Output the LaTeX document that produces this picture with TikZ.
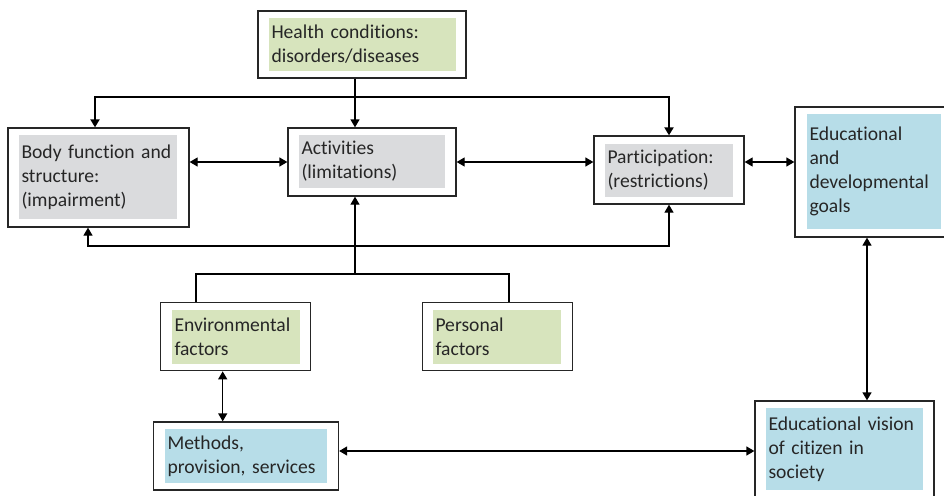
\documentclass[tikz,border=0pt]{standalone}
\usepackage{fontspec}
\setmainfont{Carlito}[Ligatures=NoCommon]
\usetikzlibrary{arrows.meta}
\definecolor{boxgrey}{HTML}{DADBDD}
\definecolor{boxgreen}{HTML}{D7E4BD}
\definecolor{boxblue}{HTML}{B7DDE8}
\definecolor{textdark}{HTML}{262626}

\begin{document}
\begin{tikzpicture}[x=1pt,y=-1pt,>={Triangle[length=8pt,width=9pt]}]
                        \tikzstyle{frame}=[draw=black!85, line width=1.3pt, fill=white, inner sep=0pt]
                        \tikzstyle{txtbox}=[inner xsep=2.5pt, inner ysep=0pt, align=left, text=textdark, font=\fontsize{19.6}{24}\selectfont]
                        \tikzstyle{conn}=[line width=1.3pt]
                        \tikzstyle{bigconn}=[line width=2.2pt]
                        \clip (0,0) rectangle (944,495);
                        % outer frames
                        \node[frame, minimum width=208pt, minimum height=67pt] (health) at (362,44.5) {};
                        \node[frame, minimum width=181pt, minimum height=99pt] (body) at (98.5,177.5) {};
                        \node[frame, minimum width=168pt, minimum height=68pt] (acts) at (372,162) {};
                        \node[frame, minimum width=150pt, minimum height=68pt] (part) at (669,170) {};
                        \node[frame, minimum width=157pt, minimum height=130pt] (goals) at (873.5,172) {};
                        \node[frame, minimum width=150pt, minimum height=68pt] (env) at (235.7,336.7) {};
                        \node[frame, minimum width=150pt, minimum height=68pt] (pers) at (497.7,336.7) {};
                        \node[frame, minimum width=185pt, minimum height=68pt] (meth) at (246,456) {};
                        \node[frame, minimum width=179pt, minimum height=100pt] (vis) at (844.5,451) {};
                        % coloured text fields
                        \node[txtbox, fill=boxgreen, text width=182pt, minimum height=53pt] (healthtxt) at (362.5,44.5) {Health conditions:\\disorders/diseases};
                        \node[txtbox, fill=boxgrey, text width=153pt, minimum height=84pt] (bodytxt) at (98,177) {Body function and\\structure:\\(impairment)};
                        \node[txtbox, fill=boxgrey, text width=141pt, minimum height=53pt] (actstxt) at (372,161.5) {Activities\\(limitations)};
                        \node[txtbox, fill=boxgrey, text width=123pt, minimum height=53pt] (parttxt) at (669,170.5) {Participation:\\(restrictions)};
                        \node[txtbox, fill=boxblue, text width=129pt, minimum height=115pt] (goalstxt) at (874,171.5) {Educational\\and\\developmental\\goals};
                        \node[txtbox, fill=boxgreen, text width=123pt, minimum height=54pt] (envtxt) at (236,337) {Environmental\\factors};
                        \node[txtbox, fill=boxgreen, text width=123pt, minimum height=54pt] (perstxt) at (497,337) {Personal\\factors};
                        \node[txtbox, fill=boxblue, text width=157pt, minimum height=54pt] (methtxt) at (246,456) {Methods,\\provision, services};
                        \node[txtbox, fill=boxblue, text width=152pt, minimum height=82pt] (vistxt) at (844.5,449) {Educational vision\\of citizen in\\society};
                        % connectors
                        \coordinate (top) at (355,97);
                        \coordinate (mid) at (355,274);
                        \coordinate (low) at (400,246);
                        \draw[conn, ->] (health.south -| top) -- (top |- acts.north);
                        \draw[bigconn, ->] (top) -| ([xshift=-3.5pt]body.north);
                        \draw[bigconn, ->] (top) -| (part.north);
                        \draw[conn, <->] (body.east |- acts.west) -- (acts.west);
                        \draw[conn, <->] (acts.east) -- (acts.east -| part.west);
                        \draw[conn, <->] (part.east |- acts.east) -- (goals.west |- acts.east);
                        \draw[conn, <->] ([xshift=-10.5pt]body.south) |- (low) -| (part.south);
                        \draw[conn, ->] (mid) -- (mid |- acts.south);
                        \draw[bigconn] ([xshift=-40pt]env.north) |- (mid) -| ([xshift=11pt]pers.north);
                        \draw[conn, <->] ([xshift=-13pt]env.south) -- ([xshift=-13pt]env.south |- meth.north);
                        \draw[conn, <->] (meth.east |- vis.west) -- (vis.west);
                        \draw[conn, <->] ([xshift=-6.5pt]goals.south) -- ([xshift=-6.5pt]goals.south |- vis.north);
                    \end{tikzpicture}
\end{document}
